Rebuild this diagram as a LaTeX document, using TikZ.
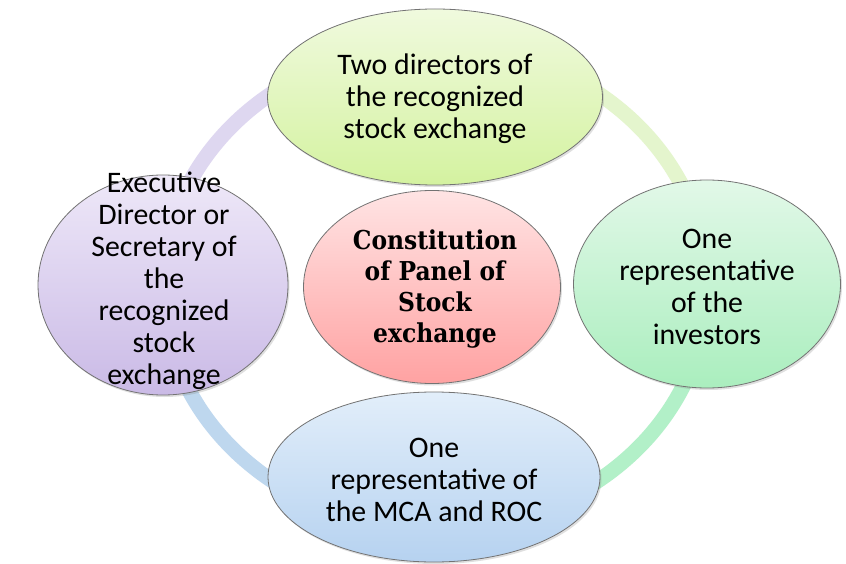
\documentclass[tikz,border=0pt]{standalone}
\usepackage{fontspec}
\setmainfont{Carlito}
\newfontfamily\headfont[FakeStretch=0.9]{DejaVu Serif}
\usetikzlibrary{shapes.geometric,shadows}
\definecolor{ringTR}{RGB}{228,245,205}
\definecolor{ringTL}{RGB}{222,215,240}
\definecolor{ringBL}{RGB}{190,215,238}
\definecolor{ringBR}{RGB}{178,240,200}
\definecolor{edgegray}{RGB}{115,115,115}
\definecolor{topA}{RGB}{240,250,222}
\definecolor{topB}{RGB}{212,242,160}
\definecolor{leftA}{RGB}{238,232,248}
\definecolor{leftB}{RGB}{202,186,230}
\definecolor{rightA}{RGB}{226,248,232}
\definecolor{rightB}{RGB}{170,238,190}
\definecolor{botA}{RGB}{226,238,250}
\definecolor{botB}{RGB}{182,210,240}
\definecolor{midA}{RGB}{255,228,228}
\definecolor{midB}{RGB}{255,162,162}
\tikzset{
  ringseg/.style={line width=15pt},
  bubble/.style={ellipse, draw=edgegray, line width=0.8pt, inner sep=0pt,
    drop shadow={shadow xshift=1.5pt, shadow yshift=-2pt, opacity=0.25}},
  txt/.style={align=center, inner sep=0pt, font=\fontsize{29.8}{32}\selectfont},
  headtxt/.style={align=center, inner sep=0pt, font=\headfont\bfseries\fontsize{26}{30.8}\selectfont}
}
\begin{document}
\begin{tikzpicture}[x=1pt,y=-1pt]
\useasboundingbox (0,0) rectangle (846,564);
\fill[white] (0,0) rectangle (846,564);
\coordinate (ringc) at (435,287);
% ring
\draw[ringseg, ringTR] ([shift={(272,0)}]ringc) arc[start angle=0, end angle=-90, x radius=272, y radius=242];
\draw[ringseg, ringTL] ([shift={(0,-242)}]ringc) arc[start angle=-90, end angle=-180, x radius=272, y radius=242];
\draw[ringseg, ringBL] ([shift={(-272,0)}]ringc) arc[start angle=-180, end angle=-270, x radius=272, y radius=242];
\draw[ringseg, ringBR] ([shift={(0,242)}]ringc) arc[start angle=-270, end angle=-360, x radius=272, y radius=242];
% bubbles
\node[bubble, top color=topA, bottom color=topB, minimum width=335pt, minimum height=176pt] (top) at (435,97) {};
\node[bubble, top color=rightA, bottom color=rightB, minimum width=267pt, minimum height=208pt] (right) at (707,284) {};
\node[bubble, top color=botA, bottom color=botB, minimum width=332pt, minimum height=170pt] (bottom) at (434,477) {};
\node[bubble, top color=leftA, bottom color=leftB, minimum width=250pt, minimum height=220pt] (left) at (163,285) {};
\node[bubble, top color=midA, bottom color=midB, minimum width=257pt, minimum height=193pt] (center) at (432,287) {};
% texts
\node[txt] (toptext) at (435,99) {Two directors of\\the recognized\\stock exchange};
\node[txt] (righttext) at (707,287) {One\\representative\\of the\\investors};
\node[txt] (bottomtext) at (434,480) {One\\representative of\\the MCA and ROC};
\node[txt] (lefttext) at (164,281) {Executive\\Director or\\Secretary of\\the\\recognized\\stock\\exchange};
\node[headtxt] (centertext) at (435,289) {Constitution\\of Panel of\\Stock\\exchange};
\end{tikzpicture}
\end{document}
